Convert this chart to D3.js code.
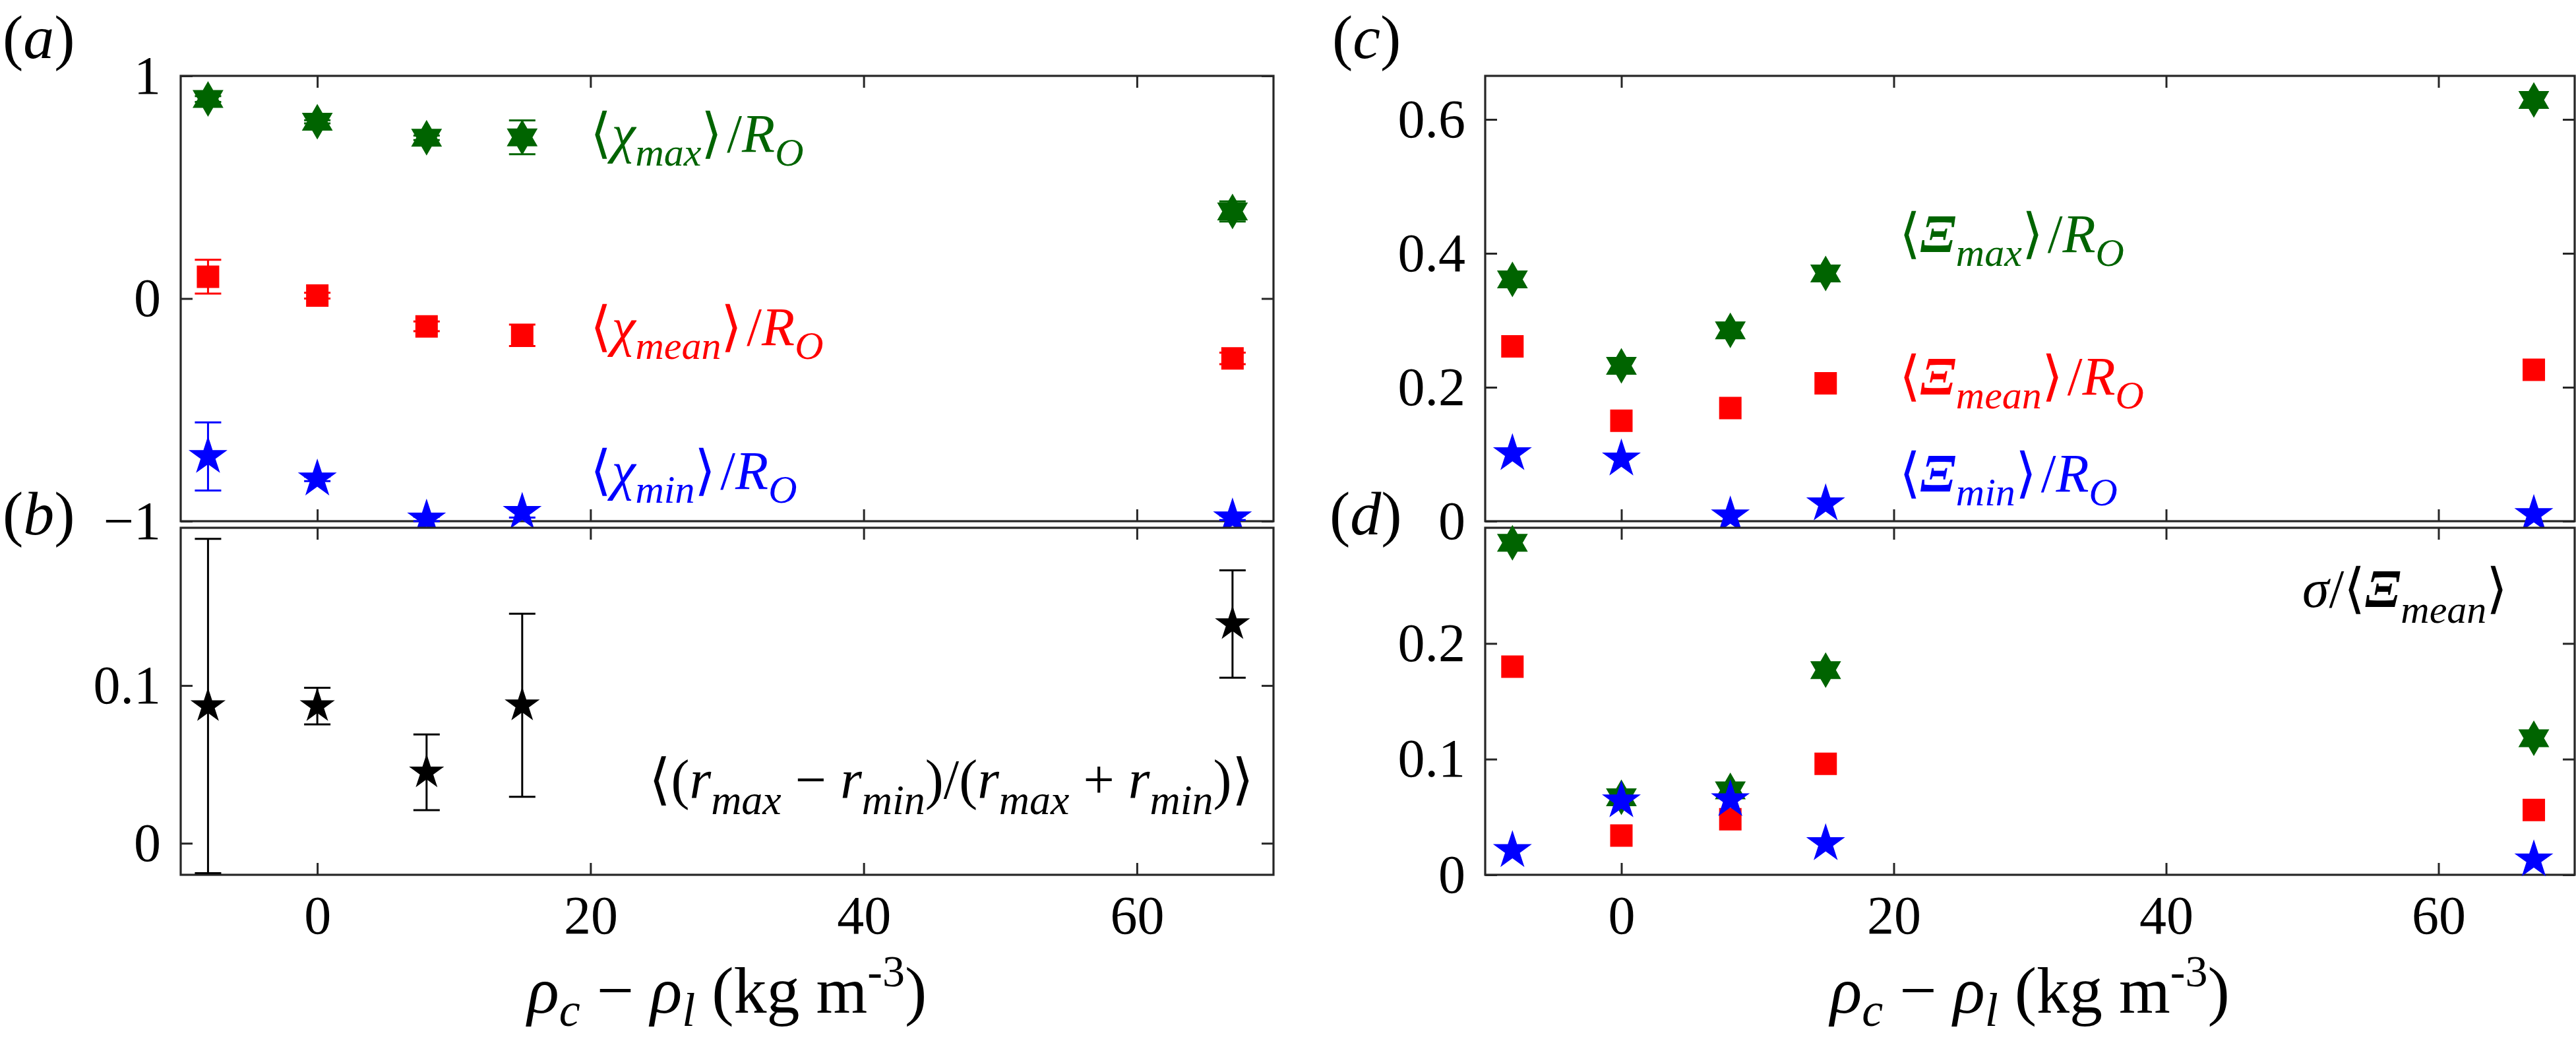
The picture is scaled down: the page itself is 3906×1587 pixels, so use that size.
<!DOCTYPE html>
<html>
<head>
<meta charset="utf-8">
<script src="https://cdn.jsdelivr.net/npm/d3@7"></script>
<style>
body { margin: 0; background: #fff; }
svg { display: block; }
</style>
</head>
<body>
<svg width="3906" height="1587"></svg>
<script>
// density difference (kg m^-3)
const xVals = [-8, 0, 8, 15, 67];

// (a) chi / R_O with error bars
const chiMax     = [0.896, 0.794, 0.722, 0.724, 0.391];
const chiMaxErr  = [0.013, 0.007, 0.010, 0.076, 0.045];
const chiMean    = [0.098, 0.013, -0.125, -0.165, -0.269];
const chiMeanErr = [0.076, 0.013, 0.022, 0.048, 0.026];
const chiMin     = [-0.709, -0.810, -0.990, -0.960, -0.985];
const chiMinErr  = [0.153, 0.010, 0.010, 0.024, 0.010];

// (b) <(rmax - rmin)/(rmax + rmin)>
const ecc    = [0.087, 0.087, 0.045, 0.0875, 0.139];
const eccErr = [0.106, 0.0116, 0.024, 0.058, 0.034];

// (c) Xi / R_O
const xiMax  = [0.361, 0.232, 0.285, 0.370, 0.629];
const xiMean = [0.261, 0.150, 0.169, 0.206, 0.226];
const xiMin  = [0.101, 0.093, 0.008, 0.026, 0.010];

// (d) sigma / <Xi_mean>
const sdMax  = [0.287, 0.067, 0.073, 0.177, 0.118];
const sdMean = [0.180, 0.034, 0.048, 0.096, 0.056];
const sdMin  = [0.021, 0.064, 0.065, 0.027, 0.013];

const xTicks = [0, 20, 40, 60];

// pick the first times-like font that is really installed
function pickFont(list) {
	const c = document.createElement('canvas').getContext('2d');
	const s = 'abcdefghijklmnopqrstuvwxyz0123456789';
	c.font = '72px monospace';
	const base = c.measureText(s).width;
	for (const f of list) {
		c.font = `72px "${f}", monospace`;
		if (Math.abs(c.measureText(s).width - base) > 0.5) return f;
	}
	return 'serif';
}
const SERIF = pickFont(['Liberation Serif', 'Times New Roman', 'Tinos', 'Nimbus Roman', 'DejaVu Serif', 'Noto Serif']);
const FONT = `"${SERIF}", serif`;

const svg = d3.select('svg').attr('font-family', FONT);
const GREEN = '#006400', RED = '#ff0000', BLUE = '#0000ff', AX = '#262626';
const TICK = 18, FS = 82;

const xL = d3.scaleLinear([-10, 70], [274, 1931]);
const xR = d3.scaleLinear([-10, 70], [2252, 3904]);
const yA = d3.scaleLinear([-1, 1], [790, 115]);
const yB = d3.scaleLinear([-0.02, 0.2], [1326, 800]);
const yC = d3.scaleLinear([0, 0.665], [790, 115]);
const yD = d3.scaleLinear([0, 0.3], [1326, 800]);

// marker paths
function starPath(R) {
	const pts = d3.range(10).map(i => {
		const a = -Math.PI / 2 + i * Math.PI / 5, r = i % 2 ? R * 0.382 : R;
		return [r * Math.cos(a), r * Math.sin(a)];
	});
	return 'M' + pts.join('L') + 'Z';
}
function hexPath(R) {
	const tri = off => d3.range(3).map(i => {
		const a = off + i * 2 * Math.PI / 3;
		return [R * Math.cos(a), R * Math.sin(a)];
	});
	return 'M' + tri(-Math.PI / 2).join('L') + 'Z' + 'M' + tri(Math.PI / 2).join('L') + 'Z';
}
function squarePath(s) {
	const h = s / 2;
	return `M${-h},${-h}H${h}V${h}H${-h}Z`;
}
const shapes = {
	hex: hexPath(27),
	square: squarePath(34),
	star: starPath(31),
	starSmall: starPath(28)
};

function panel(x, y, yTicks, yFmt, showX) {
	const g = svg.append('g');
	const [x0, x1] = x.range(), [y1, y0] = y.range();
	g.append('rect')
		.attr('x', x0).attr('y', y0)
		.attr('width', x1 - x0).attr('height', y1 - y0)
		.attr('fill', 'white');

	g.append('g').attr('transform', `translate(${x0},0)`)
		.call(d3.axisLeft(y).tickValues(yTicks).tickFormat(yFmt)
			.tickSizeInner(-TICK).tickSizeOuter(0).tickPadding(30));
	g.append('g').attr('transform', `translate(${x1},0)`)
		.call(d3.axisRight(y).tickValues(yTicks).tickFormat('')
			.tickSizeInner(-TICK).tickSizeOuter(0));
	g.append('g').attr('transform', `translate(0,${y1})`)
		.call(d3.axisBottom(x).tickValues(xTicks).tickFormat(showX ? d => d : '')
			.tickSizeInner(-TICK).tickSizeOuter(0).tickPadding(31));
	g.append('g').attr('transform', `translate(0,${y0})`)
		.call(d3.axisTop(x).tickValues(xTicks).tickFormat('')
			.tickSizeInner(-TICK).tickSizeOuter(0));

	g.selectAll('.domain').remove();
	g.selectAll('.tick line').attr('stroke', AX).attr('stroke-width', 3);
	g.selectAll('.tick text').attr('font-size', FS).attr('fill', 'black');

	g.append('rect')
		.attr('x', x0).attr('y', y0)
		.attr('width', x1 - x0).attr('height', y1 - y0)
		.attr('fill', 'none').attr('stroke', AX).attr('stroke-width', 3.2);
	return g;
}

function series(g, x, y, vals, errs, color, shape) {
	if (errs) {
		const eb = g.append('g').attr('stroke', color).attr('stroke-width', 3);
		xVals.forEach((xv, i) => {
			const cx = x(xv), lo = y(vals[i] - errs[i]), hi = y(vals[i] + errs[i]);
			eb.append('line').attr('x1', cx).attr('x2', cx).attr('y1', lo).attr('y2', hi);
			eb.append('line').attr('x1', cx - 20).attr('x2', cx + 20).attr('y1', lo).attr('y2', lo);
			eb.append('line').attr('x1', cx - 20).attr('x2', cx + 20).attr('y1', hi).attr('y2', hi);
		});
	}
	g.selectAll(null).data(vals)
		.enter().append('path')
			.attr('d', shapes[shape])
			.attr('transform', (d, i) => `translate(${x(xVals[i])},${y(d)})`)
			.attr('fill', color);
}

// math-like label: parts = [text, kind]; kind: u upright, i italic, b bold italic, s subscript, p superscript
function mathText(g, px, py, parts, color, opt = {}) {
	const size = opt.size || FS, sub = opt.sub || 60, shift = opt.shift || 21;
	const t = g.append('text').attr('x', px).attr('y', py)
		.attr('fill', color).attr('font-size', size)
		.attr('text-anchor', opt.anchor || 'start');
	let cur = 0;
	parts.forEach(([s, k]) => {
		const want = k === 's' ? shift : (k === 'p' ? -(opt.sup || 38) : 0);
		const ts = t.append('tspan').text(s).attr('dy', want - cur);
		cur = want;
		if (k === 's' || k === 'p') ts.attr('font-size', k === 'p' ? (opt.supSize || 62) : sub);
		if (k !== 'u' && k !== 'p') ts.attr('font-style', 'italic');
		if (k === 'b') ts.attr('font-weight', 'bold');
	});
	return t;
}

const gap = '\u200A/';

// (a)
const gA = panel(xL, yA, [-1, 0, 1], d => d < 0 ? '\u2212' + (-d) : d, false);
series(gA, xL, yA, chiMax, chiMaxErr, GREEN, 'hex');
series(gA, xL, yA, chiMean, chiMeanErr, RED, 'square');
series(gA, xL, yA, chiMin, chiMinErr, BLUE, 'star');
mathText(gA, xL(20), yA(0.66), [['\u27E8', 'u'], ['\u03C7', 'i'], ['max', 's'], ['\u27E9', 'u'], [gap, 'u'], ['R', 'i'], ['O', 's']], GREEN);
mathText(gA, xL(20), yA(-0.208), [['\u27E8', 'u'], ['\u03C7', 'i'], ['mean', 's'], ['\u27E9', 'u'], [gap, 'u'], ['R', 'i'], ['O', 's']], RED);
mathText(gA, xL(20), yA(-0.855), [['\u27E8', 'u'], ['\u03C7', 'i'], ['min', 's'], ['\u27E9', 'u'], [gap, 'u'], ['R', 'i'], ['O', 's']], BLUE);

// (b)
const gB = panel(xL, yB, [0, 0.1], d => d, true);
series(gB, xL, yB, ecc, eccErr, 'black', 'starSmall');
mathText(gB, xL(24.3), yB(0.0285),
	[['\u27E8(', 'u'], ['r', 'i'], ['max', 's'], [' \u2212 ', 'u'], ['r', 'i'], ['min', 's'],
	 [')/(', 'u'], ['r', 'i'], ['max', 's'], [' + ', 'u'], ['r', 'i'], ['min', 's'], [')\u27E9', 'u']],
	'black', {size: 84, shift: 24, sub: 64});

// (c)
const gC = panel(xR, yC, [0, 0.2, 0.4, 0.6], d => d, false);
series(gC, xR, yC, xiMax, null, GREEN, 'hex');
series(gC, xR, yC, xiMean, null, RED, 'square');
series(gC, xR, yC, xiMin, null, BLUE, 'star');
mathText(gC, xR(20.4), yC(0.402), [['\u27E8', 'u'], ['\u039E', 'b'], ['max', 's'], ['\u27E9', 'u'], [gap, 'u'], ['R', 'i'], ['O', 's']], GREEN);
mathText(gC, xR(20.4), yC(0.189), [['\u27E8', 'u'], ['\u039E', 'b'], ['mean', 's'], ['\u27E9', 'u'], [gap, 'u'], ['R', 'i'], ['O', 's']], RED);
mathText(gC, xR(20.4), yC(0.044), [['\u27E8', 'u'], ['\u039E', 'b'], ['min', 's'], ['\u27E9', 'u'], [gap, 'u'], ['R', 'i'], ['O', 's']], BLUE);

// (d)
const gD = panel(xR, yD, [0, 0.1, 0.2], d => d, true);
series(gD, xR, yD, sdMax, null, GREEN, 'hex');
series(gD, xR, yD, sdMean, null, RED, 'square');
series(gD, xR, yD, sdMin, null, BLUE, 'star');
mathText(gD, xR(50), yD(0.2315), [['\u03C3', 'i'], ['/\u27E8', 'u'], ['\u039E', 'b'], ['mean', 's'], ['\u27E9', 'u']], 'black', {shift: 24});

// x axis titles
[xL, xR].forEach(x => {
	const [a, b] = x.range();
	mathText(svg, (a + b) / 2, 1535,
		[['\u03C1', 'i'], ['c', 's'], [' \u2212 ', 'u'], ['\u03C1', 'i'], ['l', 's'], [' (kg m', 'u'], ['-3', 'p'], [')', 'u']],
		'black', {size: 100, sub: 72, shift: 20, anchor: 'middle', sup: 40, supSize: 68});
});

// panel letters
const letters = [['a', 4, 88], ['b', 4, 810], ['c', 2020, 88], ['d', 2016, 810]];
letters.forEach(([l, px, py]) => {
	mathText(svg, px, py, [['(', 'u'], [l, 'i'], [')', 'u']], 'black', {size: 94});
});

svg.selectAll('text').attr('font-family', FONT);
</script>
</body>
</html>
